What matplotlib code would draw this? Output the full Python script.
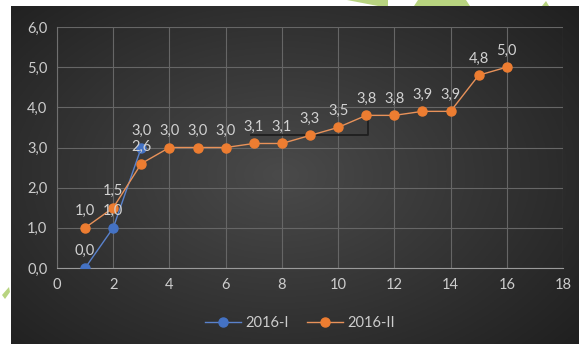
import numpy as np
import matplotlib
matplotlib.use("Agg")
import matplotlib.pyplot as plt
from matplotlib.patches import Polygon

plt.rcParams['font.family'] = ['Lato', 'DejaVu Sans']

# data
x_1 = [1, 2, 3]
y_1 = [0.0, 1.0, 3.0]
x_2 = list(range(1, 17))
y_2 = [1.0, 1.5, 2.6, 3.0, 3.0, 3.0, 3.1, 3.1, 3.3, 3.5, 3.8, 3.8, 3.9, 3.9, 4.8, 5.0]
names = ['2016-I', '2016-II']
xticks = list(range(0, 19, 2))
yticks = [0, 1, 2, 3, 4, 5, 6]

blue = '#4472c4'
orange = '#ed7d31'
txt = '#cdcdcd'

W, H = 579, 344
fig = plt.figure(figsize=(W / 100, H / 100), dpi=100)
fig.patch.set_facecolor('white')

# dark chart area with soft radial gradient
bg = fig.add_axes([11 / W, 0, 568 / W, 338 / H])
bg.set_axis_off()
gx, gy = np.meshgrid(np.linspace(-1, 1, 300), np.linspace(-1, 1, 200))
r = np.sqrt((gx + 0.05) ** 2 + (gy * 0.9) ** 2)
g = 0.29 - 0.12 * np.clip(r, 0, 1.4)
bg.imshow(np.dstack([g, g, g]), aspect='auto', extent=[0, 1, 0, 1])

# green watermark fragments
for pts in [[(347, 0), (388, 0), (388, 6), (378, 6)],
            [(418, 0), (466, 0), (470, 6), (414, 6)],
            [(542, 6), (546, 1), (549, 6)],
            [(2, 295), (9, 287), (10, 292), (5, 299)]]:
    fig.patches.append(Polygon([(px / W, 1 - py / H) for px, py in pts],
                               closed=True, transform=fig.transFigure,
                               facecolor='#b8d480', edgecolor='none'))

ax = fig.add_axes([57 / W, 76 / H, 506 / W, 241 / H])
ax.patch.set_alpha(0)
ax.set_xlim(0, 18)
ax.set_ylim(0, 6)
ax.set_xticks(xticks)
ax.set_yticks(yticks)
ax.set_yticklabels([f'{v:.1f}'.replace('.', ',') for v in yticks])
ax.tick_params(colors=txt, length=0, labelsize=10.5, pad=7)
ax.grid(True, color='#666666', lw=0.8)
for s in ['top', 'right']:
    ax.spines[s].set_visible(False)
ax.spines['bottom'].set_color('#9a9a9a')
ax.spines['left'].set_color('#707070')
ax.spines['left'].set_linewidth(0.8)

# bracket annotation line
ax.plot([6.9, 11.05, 11.05], [3.3, 3.3, 3.8], color='#1e1e1e', lw=1.3, zorder=2)

ax.plot(x_1, y_1, color='#5a82cc', lw=1.0, marker='o', ms=6.5,
        mfc=blue, mec=blue, label=names[0], zorder=3)
ax.plot(x_2, y_2, color='#e8925a', lw=1.0, marker='o', ms=6.5,
        mfc=orange, mec=orange, label=names[1], zorder=4)

for xs, ys in [(x_1, y_1), (x_2, y_2)]:
    for xv, yv in zip(xs, ys):
        ax.annotate(f'{yv:.1f}'.replace('.', ','), (xv, yv), xytext=(0, 7),
                    textcoords='offset points', ha='center', va='bottom',
                    color='#d2d2d2', fontsize=10.5, zorder=5)

leg = fig.legend(loc='center', bbox_to_anchor=(300 / W, 1 - 323 / H), ncol=2,
                 frameon=False, fontsize=10.5, labelcolor=txt, handlelength=2.5,
                 columnspacing=1.2, handletextpad=0.3)

fig.savefig('out.png', dpi=100)
